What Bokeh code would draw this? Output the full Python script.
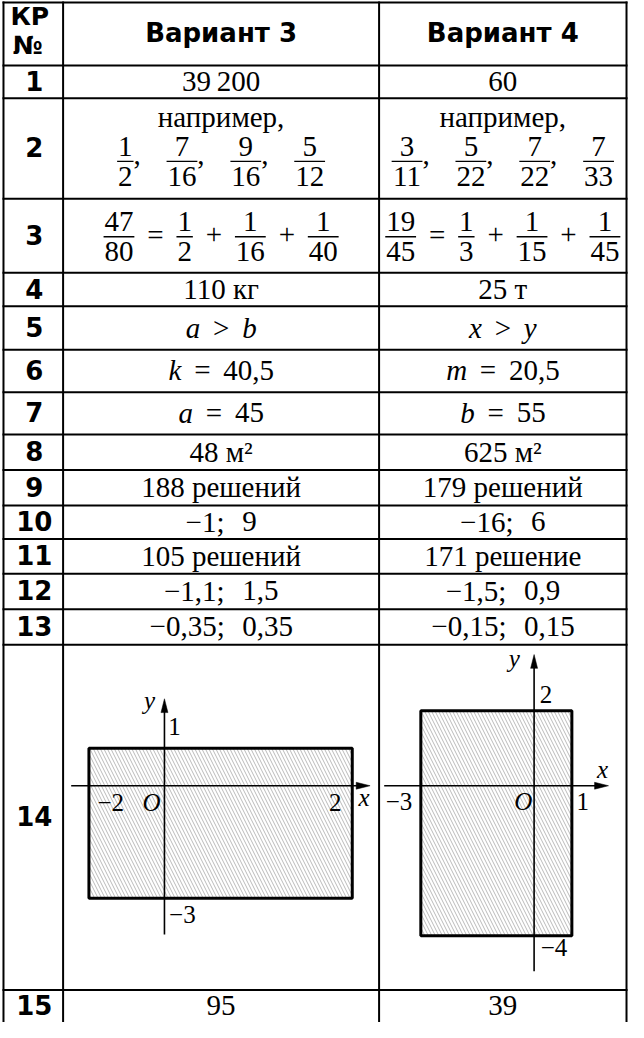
import re
from bokeh.plotting import figure
from bokeh.models import Range1d
from bokeh.core.properties import value
from bokeh.embed import file_html
from bokeh.resources import INLINE

# ---------------- data ----------------
task_numbers = [str(i) for i in range(1, 16)]
header_first = ["КР", "№"]
header_titles = ["Вариант 3", "Вариант 4"]
# markup: {a/b} fraction, *v* italic variable, ~ relation gap, _ list gap, ^ gap after ';', \n new line
variant3 = [
    "39\u2009200",
    "например,\n{1/2},_{7/16},_{9/16},_{5/12}",
    "{47/80}~=~{1/2}~+~{1/16}~+~{1/40}",
    "110 кг",
    "*a*~>~*b*",
    "*k*~=~40,5",
    "*a*~=~45",
    "48 м²",
    "188 решений",
    "−1;^9",
    "105 решений",
    "−1,1;^1,5",
    "−0,35;^0,35",
    "",
    "95",
]
variant4 = [
    "60",
    "например,\n{3/11},_{5/22},_{7/22},_{7/33}",
    "{19/45}~=~{1/3}~+~{1/15}~+~{1/45}",
    "25 т",
    "*x*~>~*y*",
    "*m*~=~20,5",
    "*b*~=~55",
    "625 м²",
    "179 решений",
    "−16;^6",
    "171 решение",
    "−1,5;^0,9",
    "−0,15;^0,15",
    "",
    "39",
]
# task 14: rectangle bounds
graph3_x = [-2, 2]
graph3_y = [-3, 1]
graph4_x = [-3, 1]
graph4_y = [-4, 2]

# ---------------- style / layout ----------------
SERIF = "Liberation Serif"
SANS = "DejaVu Sans"
FS = 29
TFIX = 10          # baseline correction for svg text
W, H = 628, 1022
COLS = [13, 73, 391, 640]
ROWS = [4, 68, 101, 203, 278, 312, 356, 399, 442, 478, 514, 548, 583, 619, 655, 1005, 1045]

p = figure(width=W, height=H, x_range=Range1d(10, 642), y_range=Range1d(1038, 2),
           x_axis_location=None, y_axis_location=None, toolbar_location=None,
           output_backend="svg", min_border=0, outline_line_color=None,
           background_fill_color="white", border_fill_color="white")
p.grid.visible = False

texts = {}


def put(x, y, s, font=SERIF, style="normal", size=FS, align="left"):
    d = texts.setdefault((font, style, size, align), {"x": [], "y": [], "t": []})
    d["x"].append(x)
    d["y"].append(y - TFIX)
    d["t"].append(s)


segs = {}


def seg(x0, y0, x1, y1, w):
    d = segs.setdefault(w, {"x0": [], "y0": [], "x1": [], "y1": []})
    d["x0"].append(x0); d["y0"].append(y0); d["x1"].append(x1); d["y1"].append(y1)


EM = {c: 0.5 for c in "0123456789"}
EM.update({" ": 0.25, ",": 0.25, ";": 0.278, "=": 0.564, "+": 0.564, ">": 0.564,
           "−": 0.564, "\u2009": 0.167})
IT = {"a": 0.5, "b": 0.5, "k": 0.444, "m": 0.722, "x": 0.444, "y": 0.444}
GAP = {"~": 13, "_": 26, "^": 18}
TOKEN_RE = re.compile(r"\{(\d+)/(\d+)\}|\*(\w+)\*|([~_^])|([^{*~_^]+)")


def tw(s, italic=False):
    tab = IT if italic else EM
    return sum(tab.get(c, 0.5) for c in s) * FS


def tokens(s):
    out = []
    for m in TOKEN_RE.finditer(s):
        if m.group(1):
            n, d = m.group(1), m.group(2)
            out.append(("f", (n, d), max(len(n), len(d)) * 0.5 * FS + 2))
        elif m.group(3):
            out.append(("i", m.group(3), tw(m.group(3), True)))
        elif m.group(4):
            out.append(("g", None, GAP[m.group(4)]))
        else:
            out.append(("t", m.group(5), tw(m.group(5))))
    return out


def layout_line(s, cx, ref, frac):
    toks = tokens(s)
    if len(toks) == 1 and toks[0][0] == "t":
        put(cx, ref, s, align="center")
        return
    total = sum(t[2] for t in toks)
    x = cx - total / 2
    for kind, val, w in toks:
        if kind == "f":
            seg(x, ref, x + w, ref, 1.3)
            put(x + w / 2, ref - 5, val[0], align="center")
            put(x + w / 2, ref + 25, val[1], align="center")
        elif kind == "i":
            put(x, ref + 8 if frac else ref, val, style="italic")
        elif kind == "t":
            if frac:
                put(x, ref + 3 if val.strip() == "," else ref + 8, val)
            else:
                put(x, ref, val)
        x += w


# grid
for cx in COLS:
    seg(cx, ROWS[0] - 1, cx, ROWS[-1], 2)
for ry in ROWS[:-1]:
    seg(COLS[0] - 1, ry, COLS[-1] + 1, ry, 2)

# header
put(20, 28, header_first[0], font=SANS, style="bold", size=25)
put(22, 58, header_first[1], font=SANS, style="bold", size=25)
for i, t in enumerate(header_titles):
    cx = (COLS[i + 1] + COLS[i + 2]) / 2
    put(cx, (ROWS[0] + ROWS[1]) / 2 + 9, t, font=SANS, style="bold", size=26, align="center")

# rows
for r, num in enumerate(task_numbers):
    top, bot = ROWS[r + 1], ROWS[r + 2]
    if r == len(task_numbers) - 1:
        bot = 1038
    cy = (top + bot) / 2
    base = cy + 9.5
    put(44, cy + 9, num, font=SANS, style="bold", size=26, align="center")
    for c, col in enumerate([variant3, variant4]):
        s = col[r]
        if not s:
            continue
        cx = (COLS[c + 1] + COLS[c + 2]) / 2
        lines = s.split("\n")
        if len(lines) == 2:
            layout_line(lines[0], cx, top + 29, False)
            layout_line(lines[1], cx, top + 64, True)
        elif "{" in s:
            layout_line(s, cx, cy + 1, True)
        else:
            layout_line(s, cx, base, False)


# task 14 graphs
def draw_graph(gx, gy, ox, oy, kxn, kxp, ky, xext, yext, lab):
    sx = lambda v: ox + v * (kxp if v > 0 else kxn)
    sy = lambda v: oy - v * ky
    p.quad(left=[sx(gx[0])], right=[sx(gx[1])], top=[sy(gy[1])], bottom=[sy(gy[0])],
           fill_color="white", hatch_pattern="\\", hatch_color="#a8a8a8",
           hatch_scale=7, hatch_weight=0.8, line_color="black", line_width=3)
    x_a, x_b = sx(xext[0]), sx(xext[1])
    y_a, y_b = sy(yext[0]), sy(yext[1])
    seg(x_a, oy, x_b - 6, oy, 1.6)
    seg(ox, y_a, ox, y_b + 6, 1.6)
    p.patches(xs=[[x_b, x_b - 14, x_b - 14], [ox, ox - 3.5, ox + 3.5]],
              ys=[[oy, oy - 3.5, oy + 3.5], [y_b, y_b + 14, y_b + 14]],
              fill_color="black", line_color="black", line_width=0.5)
    L = {
        "xmin": (sx(gx[0]), oy), "xmax": (sx(gx[1]), oy),
        "ymin": (ox, sy(gy[0])), "ymax": (ox, sy(gy[1])),
        "O": (ox, oy), "xtip": (x_b, oy), "ytip": (ox, y_b),
    }
    for key, txt, dx, dy, style in lab:
        bx, by = L[key]
        put(bx + dx, by + dy, txt, style=style, size=25, align="center")


draw_graph(graph3_x, graph3_y, 175, 798, 38, 94.5, 38, (-2.47, 2.19), (-3.97, 2.32),
           [("xmin", "−" + str(abs(graph3_x[0])), 22, 27, "normal"),
            ("O", "O", -13, 27, "italic"),
            ("xmax", str(graph3_x[1]), -17, 27, "normal"),
            ("xtip", "x", -6, 22, "italic"),
            ("ytip", "y", -15, 12, "italic"),
            ("ymax", str(graph3_y[1]), 10, -12, "normal"),
            ("ymin", "−" + str(abs(graph3_y[0])), 18, 27, "normal")])
draw_graph(graph4_x, graph4_y, 547, 798, 38, 38, 38, (-3.97, 1.97), (-4.95, 3.5),
           [("xmin", "−" + str(abs(graph4_x[0])), -22, 26, "normal"),
            ("O", "O", -11, 26, "italic"),
            ("xmax", str(graph4_x[1]), 11, 26, "normal"),
            ("xtip", "x", -6, -6, "italic"),
            ("ytip", "y", -20, 14, "italic"),
            ("ymax", str(graph4_y[1]), 12, -7, "normal"),
            ("ymin", "−" + str(abs(graph4_y[0])), 20, 22, "normal")])

# render collected lines and texts
for w, d in segs.items():
    p.segment(x0=d["x0"], y0=d["y0"], x1=d["x1"], y1=d["y1"], line_color="black", line_width=w)
for (font, style, size, align), d in texts.items():
    p.text(x=d["x"], y=d["y"], text=d["t"], text_font=value(font), text_font_style=style,
           text_font_size=f"{size}px", text_align=align, text_baseline="alphabetic",
           text_color="black")

open("out.html", "w").write(file_html(p, INLINE))
